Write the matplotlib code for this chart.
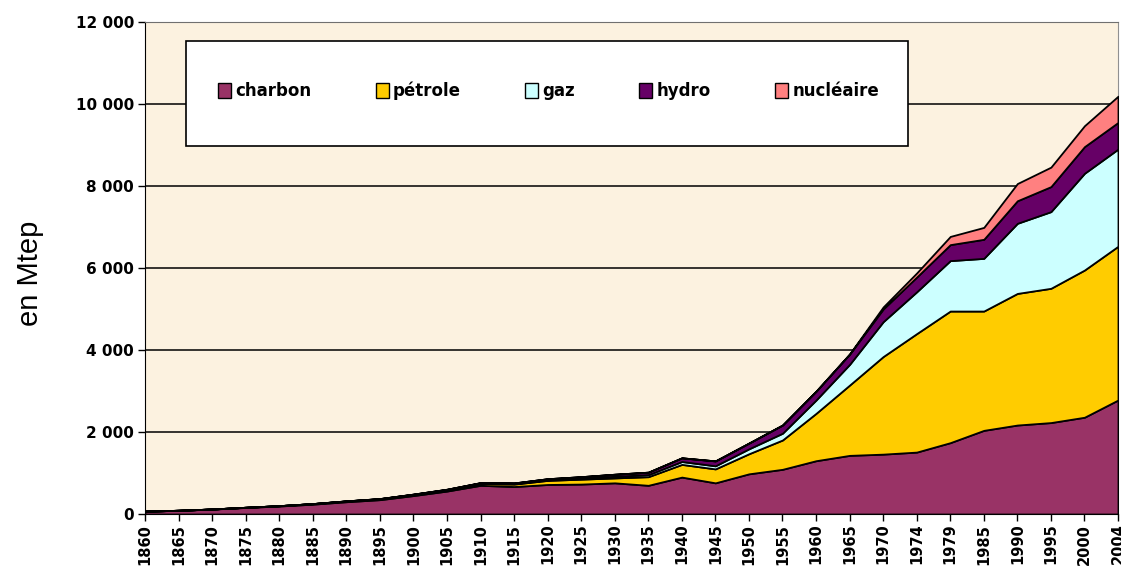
import matplotlib.pyplot as plt
from matplotlib.patches import Patch, Rectangle
from matplotlib.ticker import FuncFormatter

# Consommation mondiale d'énergie par source (Mtep)
annees = ["1860", "1865", "1870", "1875", "1880", "1885", "1890", "1895", "1900", "1905",
          "1910", "1915", "1920", "1925", "1930", "1935", "1940", "1945", "1950", "1955",
          "1960", "1965", "1970", "1974", "1979", "1985", "1990", "1995", "2000", "2004"]
charbon = [70, 90, 120, 160, 195, 240, 300, 350, 450, 560,
           700, 670, 720, 730, 760, 700, 900, 760, 980, 1090,
           1300, 1430, 1460, 1510, 1740, 2040, 2170, 2230, 2360, 2780]
petrole = [0, 1, 2, 4, 8, 12, 16, 20, 25, 30,
           45, 60, 100, 120, 120, 210, 310, 340, 490, 715,
           1155, 1715, 2380, 2890, 3210, 2910, 3210, 3275, 3590, 3750]
gaz = [0, 0, 0, 0, 0, 1, 2, 3, 5, 7,
       10, 12, 15, 25, 40, 50, 70, 75, 120, 165,
       325, 505, 850, 1020, 1230, 1285, 1710, 1870, 2360, 2370]
hydro = [0, 0, 0, 0, 0, 1, 2, 3, 5, 7,
         10, 15, 25, 35, 50, 60, 90, 120, 140, 200,
         215, 250, 310, 360, 390, 465, 550, 610, 650, 650]
nucleaire = [0, 0, 0, 0, 0, 0, 0, 0, 0, 0,
             0, 0, 0, 0, 0, 0, 0, 0, 0, 0,
             0, 5, 50, 100, 200, 290, 420, 475, 510, 640]

noms = ["charbon", "pétrole", "gaz", "hydro", "nucléaire"]
couleurs = ["#993366", "#FFCC00", "#CCFFFF", "#660066", "#FF8080"]

fig = plt.figure(figsize=(11.21, 5.72), dpi=100)
ax = fig.add_axes([145 / 1121, 1 - 514 / 572, 973 / 1121, 492 / 572])
ax.set_facecolor("#FCF2E0")

x = list(range(len(annees)))
ax.stackplot(x, charbon, petrole, gaz, hydro, nucleaire,
             colors=couleurs, edgecolor="black", linewidth=1.3, zorder=3)

ax.set_xlim(0, len(annees) - 1)
ax.set_ylim(0, 12000)
ax.set_yticks(range(0, 12001, 2000))
ax.yaxis.set_major_formatter(FuncFormatter(lambda v, p: f"{int(v):,}".replace(",", " ")))
ax.grid(axis="y", color="black", linewidth=1.1, zorder=1)
ax.set_axisbelow(True)

ax.set_xticks(x)
ax.set_xticklabels(annees, rotation=90, fontsize=10.5, fontweight="bold")
for lab in ax.get_yticklabels():
    lab.set_fontweight("bold")
    lab.set_fontsize(11)
ax.tick_params(direction="out", length=5, width=1, color="black", pad=3)
ax.tick_params(axis="x", pad=2)

ax.spines["left"].set_color("black")
ax.spines["bottom"].set_color("black")
ax.spines["top"].set_color("#707070")
ax.spines["right"].set_color("#909090")

ax.set_ylabel("en Mtep", fontsize=21, family="Liberation Sans")
ax.yaxis.set_label_coords(-0.104, 0.49)

# cadre de la légende
ax.add_patch(Rectangle((41 / 973, (514 - 146) / 492), 722 / 973, 105 / 492,
                       transform=ax.transAxes, facecolor="white", edgecolor="black",
                       linewidth=1.2, zorder=5))
poignees = [Patch(facecolor=c, edgecolor="black", linewidth=1) for c in couleurs]
leg = ax.legend(poignees, noms, ncol=5, mode="expand", frameon=False,
                loc="center", bbox_to_anchor=(73 / 973, 0.80, 661 / 973, 0.12),
                borderaxespad=0, borderpad=0, handlelength=0.8, handleheight=1.0,
                handletextpad=0.25, prop={"weight": "bold", "size": 12})
leg.set_zorder(6)

fig.savefig("out.png", dpi=100, facecolor="white")
